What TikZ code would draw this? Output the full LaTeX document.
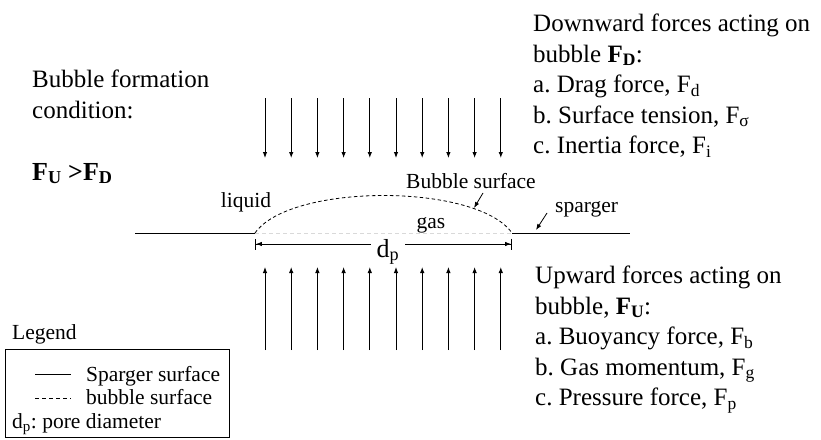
\documentclass[tikz,border=0pt]{standalone}
\usepackage{fontspec}
\setmainfont{Liberation Serif}
\usetikzlibrary{arrows.meta,positioning}
\frenchspacing

\begin{document}
\begin{tikzpicture}[x=1pt, y=-1pt, >={Latex[length=6pt,width=4.5pt]}]
        \tikzstyle{bigtext}=[inner sep=0pt, anchor=north west, align=left, font=\fontsize{25}{30.5}\selectfont]
        \tikzstyle{smalltext}=[inner sep=0pt, font=\fontsize{21.5}{24}\selectfont]
        \tikzstyle{force}=[->, line width=0.9pt]
        \useasboundingbox (0,0) rectangle (821,439);
        % condition on the left
        \node[bigtext] (cond) at (32,69.8) {Bubble formation\\condition:};
        \node[inner sep=0pt, anchor=base west, font=\fontsize{26}{30}\selectfont\bfseries] (ineq) at (32,180) {F\textsubscript{U} >F\textsubscript{D}};
        % sparger, pore and bubble
        \coordinate (sl) at (135,233);
        \coordinate (pl) at (255,233);
        \coordinate (pr) at (512,233);
        \coordinate (sr) at (630,233);
        \draw[line width=1pt] (sl) -- (pl);
        \draw[line width=1pt] (pr) -- (sr);
        \draw[black!15, line width=1pt, dash pattern=on 4pt off 3pt] (pl) -- (pr);
        \draw[line width=0.8pt, dash pattern=on 3.5pt off 2.5pt] (pl) .. controls (290,183) and (477,183) .. (pr);
        \node[smalltext, anchor=base] (liquid) at (246,207) {liquid};
        \node[smalltext, anchor=base] (gas) at (431,228) {gas};
        \node[smalltext, anchor=base] (bsurf) at (471,188) {Bubble surface};
        \node[smalltext, anchor=base west] (sparger) at (555,212) {sparger};
        \coordinate (bs1) at (483,193);
        \coordinate (bs2) at (474,208);
        \coordinate (sp1) at (547,213);
        \coordinate (sp2) at (536,230);
        \draw[->, line width=0.8pt] (bs1) -- (bs2);
        \draw[->, line width=0.8pt] (sp1) -- (sp2);
        % pore diameter
        \coordinate (dl) at (255,244);
        \coordinate (dr) at (512,244);
        \draw[line width=0.9pt, {Bar[width=11pt]Latex[length=6pt,width=4.5pt]}-{Latex[length=6pt,width=4.5pt]Bar[width=11pt]}] (dl) -- (dr);
        \node[inner sep=0pt, inner xsep=6pt, fill=white, anchor=base, font=\fontsize{26}{30}\selectfont] (dp) at (388,257) {d\textsubscript{p}};
        % forces
        \foreach \i in {0,...,9} {
            \draw[force] ({265+26.2*\i},98) -- ({265+26.2*\i},158);
            \draw[force] ({265+26.2*\i},350) -- ({265+26.2*\i},267);
        }
        \node[bigtext] (down) at (533,13.8) {Downward forces acting on\\bubble \textbf{F\textsubscript{D}}:\\a. Drag force, F\textsubscript{d}\\b. Surface tension, F\textsubscript{σ}\\c. Inertia force, F\textsubscript{i}};
        \node[bigtext] (up) at (535,265.8) {Upward forces acting on\\bubble, \textbf{F\textsubscript{U}}:\\a. Buoyancy force, F\textsubscript{b}\\b. Gas momentum, F\textsubscript{g}\\c. Pressure force, F\textsubscript{p}};
        % legend
        \node[smalltext, anchor=base west] (legtitle) at (12,339) {Legend};
        \node[draw, line width=0.9pt, minimum width=224pt, minimum height=88pt, anchor=north west] (legbox) at (5,349) {};
        \coordinate (ls1) at (35,374);
        \coordinate (ls2) at (71,374);
        \coordinate (lb1) at (35,398);
        \coordinate (lb2) at (71,398);
        \draw[line width=0.9pt] (ls1) -- (ls2);
        \draw[line width=0.9pt, dash pattern=on 4pt off 3pt] (lb1) -- (lb2);
        \node[smalltext, anchor=base west] (legsp) at (86,381) {Sparger surface};
        \node[smalltext, anchor=base west] (legbs) at (86,404) {bubble surface};
        \node[smalltext, anchor=base west] (legdp) at (12,428) {d\textsubscript{p}: pore diameter};
    \end{tikzpicture}
\end{document}
